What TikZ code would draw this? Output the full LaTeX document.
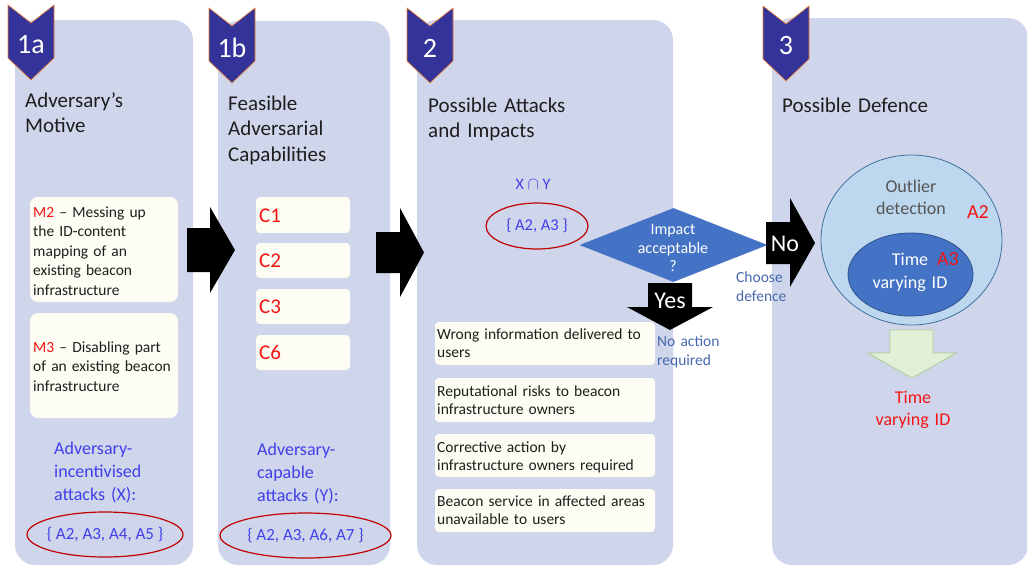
\documentclass[tikz,border=0pt]{standalone}
\usepackage{fontspec}
\setmainfont{Carlito}
\usetikzlibrary{shapes.geometric}
\definecolor{panelc}{RGB}{207,213,234}
\definecolor{creamc}{RGB}{253,253,243}
\definecolor{badgec}{RGB}{51,51,153}
\definecolor{badgeedge}{RGB}{237,125,49}
\definecolor{bluetxt}{RGB}{64,64,235}
\definecolor{redtxt}{RGB}{245,20,20}
\definecolor{ellred}{RGB}{192,0,0}
\definecolor{diac}{RGB}{68,114,196}
\definecolor{steelc}{RGB}{70,105,175}
\definecolor{outerc}{RGB}{189,215,238}
\definecolor{outeredge}{RGB}{65,113,156}
\definecolor{inneredge}{RGB}{47,82,143}
\definecolor{greenf}{RGB}{226,240,217}
\definecolor{greene}{RGB}{169,209,142}
\definecolor{grayt}{RGB}{85,85,85}
\definecolor{darkt}{RGB}{30,30,30}
\begin{document}
\begin{tikzpicture}[x=1pt,y=-1pt,
  panel/.style={fill=panelc, draw=none, rounded corners=20pt, inner sep=0pt},
  badgeshape/.style={fill=badgec, draw=badgeedge, line width=0.6pt},
  badgetext/.style={text=white, font=\fontsize{28}{32}\selectfont, inner sep=0pt},
  titletext/.style={text=darkt, anchor=base west, align=left, text width=170pt, inner sep=0pt, font=\fontsize{21}{25.5}\selectfont},
  boxc/.style={fill=creamc, draw=none, rounded corners=8pt, inner sep=0pt},
  smallbox/.style={fill=creamc, draw=none, rounded corners=4pt, inner sep=0pt},
  btext/.style={text=darkt, anchor=base west, align=left, inner sep=0pt, font=\fontsize{15.5}{19.6}\selectfont},
  itext/.style={text=darkt, anchor=base west, align=left, inner sep=0pt, text width=218pt, font=\fontsize{15.5}{18.8}\selectfont},
  bluetext/.style={text=bluetxt, anchor=base west, align=left, inner sep=0pt, text width=120pt, font=\fontsize{18}{23}\selectfont},
  settext/.style={text=bluetxt, inner sep=0pt, font=\fontsize{17}{20}\selectfont},
  ctext/.style={text=redtxt, anchor=west, inner sep=0pt, font=\fontsize{21}{24}\selectfont},
  redell/.style={ellipse, draw=ellred, line width=1.2pt, inner sep=0pt},
  blockarrow/.style={fill=black, draw=none},
  whitebig/.style={text=white, inner sep=0pt, font=\fontsize{24}{28}\selectfont},
  steeltext/.style={text=steelc, anchor=base west, align=left, inner sep=0pt, text width=80pt, font=\fontsize{15.5}{19}\selectfont},
  ctrtext/.style={anchor=base, align=center, inner sep=0pt, text width=120pt},
]
\useasboundingbox (0,0) rectangle (1027,566);

% panels
\node[panel, minimum width=178pt, minimum height=545pt] (p1a) at (104,292.5) {};
\node[panel, minimum width=172pt, minimum height=544pt] (p1b) at (304,293) {};
\node[panel, minimum width=256pt, minimum height=545pt] (p2) at (545,292.5) {};
\node[panel, minimum width=256pt, minimum height=547pt] (p3) at (900,291.5) {};

% badges
\foreach \x/\y/\t in {31/45/1a, 232/48/1b, 430/48/2, 786/46/3} {
  \draw[badgeshape] (\x-23,\y-40) -- (\x,\y-22) -- (\x+23,\y-40) -- (\x+23,\y+13) -- (\x,\y+35) -- (\x-23,\y+13) -- cycle;
  \node[badgetext] (b\t) at (\x,\y) {\t};
}

% titles
\node[titletext] (t1a) at (25,107) {Adversary’s\\Motive};
\node[titletext] (t1b) at (228,110) {Feasible\\Adversarial\\Capabilities};
\node[titletext] (t2) at (428,112) {Possible Attacks\\and Impacts};
\node[titletext] (t3) at (782,112) {Possible Defence};

% panel 1a
\node[boxc, minimum width=148pt, minimum height=105pt] (m2) at (104,249.5) {};
\node[btext, text width=145pt] (m2t) at (33,217) {\textcolor{redtxt}{M2} – Messing up\\the ID-content\\mapping of an\\existing beacon\\infrastructure};
\node[boxc, minimum width=148pt, minimum height=105pt] (m3) at (104,365.5) {};
\node[btext, text width=147pt] (m3t) at (33,352) {\textcolor{redtxt}{M3} – Disabling part\\of an existing beacon\\infrastructure};
\node[bluetext] (xt) at (54,454) {Adversary-\\incentivised\\attacks (X):};
\node[redell, minimum width=156pt, minimum height=45pt] (ex) at (105,534.5) {};
\node[settext] (exs) at (ex.center) {\{ A2, A3, A4, A5 \}};

% panel 1b
\node[smallbox, minimum width=94pt, minimum height=36pt] (c1) at (303,215) {};
\node[smallbox, minimum width=94pt, minimum height=35pt] (c2) at (303,260.5) {};
\node[smallbox, minimum width=94pt, minimum height=35pt] (c3) at (303,306.5) {};
\node[smallbox, minimum width=94pt, minimum height=35pt] (c6) at (303,352.5) {};
\node[ctext] (c1t) at (259,215.3) {C1};
\node[ctext] (c2t) at (259,260.8) {C2};
\node[ctext] (c3t) at (259,306.8) {C3};
\node[ctext] (c6t) at (259,352.8) {C6};
\node[bluetext] (yt) at (257,455) {Adversary-\\capable\\attacks (Y):};
\node[redell, minimum width=171pt, minimum height=45pt] (ey) at (305.5,535.5) {};
\node[settext] (eys) at (ey.center) {\{ A2, A3, A6, A7 \}};

% arrows between panels
\fill[blockarrow] (187,228) -- (210,228) -- (210,207) -- (235,250) -- (210,293) -- (210,272) -- (187,272) -- cycle;
\fill[blockarrow] (376,232) -- (400,232) -- (400,208) -- (424,252.5) -- (400,297) -- (400,273) -- (376,273) -- cycle;

% panel 2
\node[settext, font=\fontsize{16}{19}\selectfont] (xy) at (533,184) {X $\cap$ Y};
\node[redell, minimum width=102pt, minimum height=46pt] (exy) at (537,226) {};
\node[settext, font=\fontsize{16.5}{19}\selectfont] (exys) at (exy.center) {\{ A2, A3 \}};
\node[diamond, fill=diac, draw=none, minimum width=188pt, minimum height=74pt, inner sep=0pt] (dia) at (673.5,245) {};
\node[text=white, align=center, inner sep=0pt, font=\fontsize{16}{18.8}\selectfont] (diat) at (673,248) {Impact\\acceptable\\?};

\fill[blockarrow] (648,283) -- (692,283) -- (692,307) -- (713,307) -- (670,330) -- (627,307) -- (648,307) -- cycle;
\node[whitebig] (yes) at (670,301) {Yes};
\fill[blockarrow] (766,222) -- (790,222) -- (790,198) -- (815,243) -- (790,287) -- (790,264) -- (766,264) -- cycle;
\node[whitebig] (no) at (785,244) {No};
\node[steeltext] (choose) at (736,282) {Choose\\defence};
\node[steeltext] (noact) at (657,346) {No action\\required};

\node[smallbox, minimum width=220pt, minimum height=43pt] (i1) at (545,343.5) {};
\node[smallbox, minimum width=220pt, minimum height=44pt] (i2) at (545,400) {};
\node[smallbox, minimum width=220pt, minimum height=43pt] (i3) at (545,455.5) {};
\node[smallbox, minimum width=220pt, minimum height=43pt] (i4) at (545,510.5) {};
\node[itext] (i1t) at (437,339) {Wrong information delivered to\\users};
\node[itext] (i2t) at (437,396) {Reputational risks to beacon\\infrastructure owners};
\node[itext] (i3t) at (437,452) {Corrective action by\\infrastructure owners required};
\node[itext] (i4t) at (437,506) {Beacon service in affected areas\\unavailable to users};

% panel 3
\node[ellipse, fill=outerc, draw=outeredge, line width=0.8pt, minimum width=181pt, minimum height=170pt, inner sep=0pt] (outer) at (911.5,240) {};
\node[ellipse, fill=diac, draw=inneredge, line width=0.8pt, minimum width=125pt, minimum height=83pt, inner sep=0pt] (inner) at (910.5,274.5) {};
\node[ctrtext, text=grayt, font=\fontsize{18}{22}\selectfont] (outt) at (911,192) {Outlier\\detection};
\node[text=redtxt, anchor=base, inner sep=0pt, font=\fontsize{20}{24}\selectfont] (a2) at (978,218) {A2};
\node[ctrtext, text=white, font=\fontsize{18}{23}\selectfont] (innt) at (910,265) {Time\\varying ID};
\node[text=redtxt, anchor=base, inner sep=0pt, font=\fontsize{20}{24}\selectfont] (a3) at (948,265) {A3};
\draw[fill=greenf, draw=greene, line width=0.8pt] (890,330) -- (933,330) -- (933,353) -- (956,353) -- (912,378) -- (868,353) -- (890,353) -- cycle;
\node[ctrtext, text=redtxt, font=\fontsize{18}{22}\selectfont] (res) at (913,403) {Time\\varying ID};
\end{tikzpicture}
\end{document}
